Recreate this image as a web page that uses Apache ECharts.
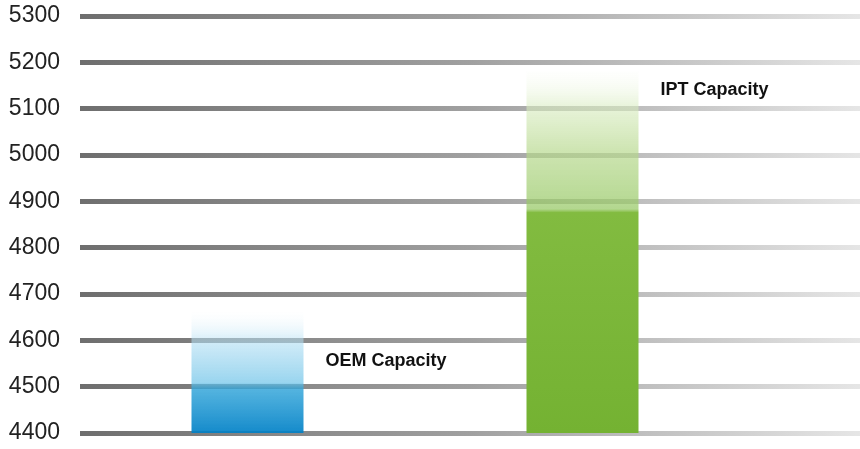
<!DOCTYPE html>
<html><head><meta charset="utf-8">
<script src="https://cdn.jsdelivr.net/npm/echarts@6/dist/echarts.min.js"></script>
<style>html,body{margin:0;padding:0;background:#fff}#c{width:860px;height:449px}</style>
</head><body><div id="c"></div>
<script>
var categories = ['OEM Capacity', 'IPT Capacity'];
var capacityValues = [4660, 5180];
var labelValues = [4555, 5140];
var yTicks = [4400, 4500, 4600, 4700, 4800, 4900, 5000, 5100, 5200, 5300];

var G = echarts.graphic.LinearGradient;
var barColors = [
  new G(0, 1, 0, 0, [
    {offset: 0, color: 'rgba(0,128,198,0.92)'},
    {offset: 0.36, color: 'rgba(40,160,215,0.8)'},
    {offset: 0.42, color: 'rgba(110,195,232,0.7)'},
    {offset: 0.74, color: 'rgba(172,220,242,0.6)'},
    {offset: 0.86, color: 'rgba(210,236,248,0.4)'},
    {offset: 1, color: 'rgba(240,248,252,0.05)'}
  ]),
  new G(0, 1, 0, 0, [
    {offset: 0, color: '#74b232'},
    {offset: 0.61, color: '#82bb40'},
    {offset: 0.62, color: 'rgba(150,200,100,0.72)'},
    {offset: 0.78, color: 'rgba(182,216,140,0.68)'},
    {offset: 0.9, color: 'rgba(215,235,190,0.6)'},
    {offset: 1, color: 'rgba(245,250,238,0.1)'}
  ])
];

var chart = echarts.init(document.getElementById('c'));
chart.setOption({
  animation: false,
  grid: [
    {left: 80, right: 0, top: 16, bottom: 16, containLabel: false, outerBoundsMode: 'none'},
    {left: 80, width: 670, top: 16, bottom: 16, containLabel: false, outerBoundsMode: 'none'}
  ],
  xAxis: [
    {gridIndex: 0, type: 'value', show: false},
    {gridIndex: 1, type: 'category', data: categories, show: false}
  ],
  yAxis: [
    {gridIndex: 0, type: 'value', min: yTicks[0], max: yTicks[yTicks.length - 1], interval: 100,
     axisLine: {show: false}, axisTick: {show: false},
     axisLabel: {margin: 20, color: '#222', fontSize: 23, fontFamily: '"Liberation Sans",Arial,sans-serif',
       formatter: function (v) { return String(v); }},
     splitLine: {show: true, lineStyle: {width: 5, color: new G(0, 0, 1, 0, [
       {offset: 0, color: '#6e6e6e'}, {offset: 0.5, color: '#a0a0a0'}, {offset: 1, color: '#e6e6e6'}
     ])}}},
    {gridIndex: 1, type: 'value', min: yTicks[0], max: yTicks[yTicks.length - 1], interval: 100, show: false, splitLine: {show: false}}
  ],
  series: [
    {type: 'bar', xAxisIndex: 1, yAxisIndex: 1, barWidth: 112,
     data: capacityValues.map(function (v, i) { return {value: v, itemStyle: {color: barColors[i]}}; })},
    {type: 'scatter', xAxisIndex: 1, yAxisIndex: 1, symbolSize: 0, silent: true,
     itemStyle: {opacity: 1},
     data: labelValues.map(function (v, i) { return [categories[i], v]; }),
     label: {show: true, position: 'right', distance: 78,
       formatter: function (p) { return p.value[0]; },
       color: '#111', fontSize: 18, fontWeight: 'bold', fontFamily: 'Arial,"Liberation Sans",sans-serif'}}
  ]
});
</script></body></html>
